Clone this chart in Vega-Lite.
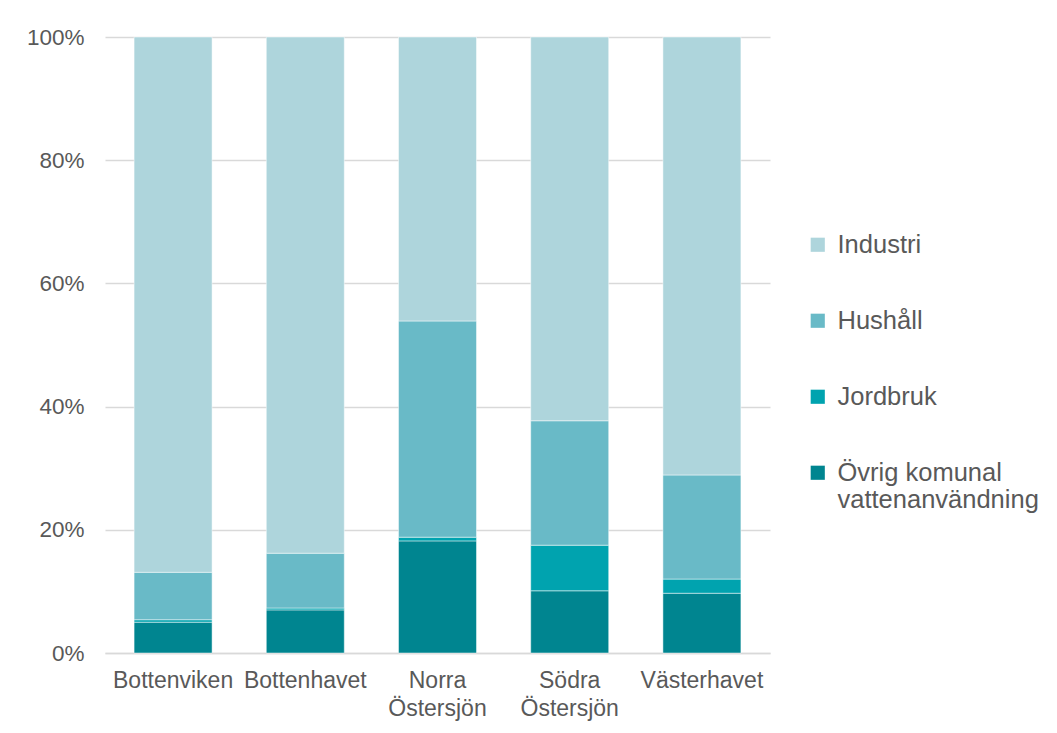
{
  "$schema": "https://vega.github.io/schema/vega-lite/v6.json",
  "autosize": "none",
  "width": 665,
  "height": 616,
  "padding": {"left": 105, "top": 37, "right": 287, "bottom": 80},
  "background": "white",
  "data": {
    "values": [
      {"region": "Bottenviken", "category": "Övrig komunal vattenanvändning", "share": 0.050},
      {"region": "Bottenviken", "category": "Jordbruk", "share": 0.004},
      {"region": "Bottenviken", "category": "Hushåll", "share": 0.077},
      {"region": "Bottenviken", "category": "Industri", "share": 0.869},
      {"region": "Bottenhavet", "category": "Övrig komunal vattenanvändning", "share": 0.070},
      {"region": "Bottenhavet", "category": "Jordbruk", "share": 0.003},
      {"region": "Bottenhavet", "category": "Hushåll", "share": 0.089},
      {"region": "Bottenhavet", "category": "Industri", "share": 0.838},
      {"region": "Norra Östersjön", "category": "Övrig komunal vattenanvändning", "share": 0.182},
      {"region": "Norra Östersjön", "category": "Jordbruk", "share": 0.006},
      {"region": "Norra Östersjön", "category": "Hushåll", "share": 0.351},
      {"region": "Norra Östersjön", "category": "Industri", "share": 0.461},
      {"region": "Södra Östersjön", "category": "Övrig komunal vattenanvändning", "share": 0.101},
      {"region": "Södra Östersjön", "category": "Jordbruk", "share": 0.074},
      {"region": "Södra Östersjön", "category": "Hushåll", "share": 0.202},
      {"region": "Södra Östersjön", "category": "Industri", "share": 0.623},
      {"region": "Västerhavet", "category": "Övrig komunal vattenanvändning", "share": 0.097},
      {"region": "Västerhavet", "category": "Jordbruk", "share": 0.023},
      {"region": "Västerhavet", "category": "Hushåll", "share": 0.169},
      {"region": "Västerhavet", "category": "Industri", "share": 0.711}
    ]
  },
  "transform": [
    {"calculate": "indexof(['Övrig komunal vattenanvändning','Jordbruk','Hushåll','Industri'], datum.category)", "as": "stackOrder"}
  ],
  "mark": {"type": "bar", "stroke": "white", "strokeWidth": 0.8, "strokeOpacity": 0.6},
  "encoding": {
    "x": {
      "field": "region",
      "type": "nominal",
      "sort": null,
      "scale": {"paddingInner": 0.41, "paddingOuter": 0.22},
      "axis": {
        "title": null,
        "labelAngle": 0,
        "labelExpr": "split(datum.label, ' ')",
        "labelFont": "Liberation Sans",
        "labelFontSize": 23,
        "labelColor": "#595959",
        "labelLineHeight": 28,
        "labelPadding": 16,
        "labelOverlap": false,
        "ticks": false,
        "domain": true,
        "domainColor": "#D9D9D9",
        "domainWidth": 1.5,
        "grid": false
      }
    },
    "y": {
      "field": "share",
      "type": "quantitative",
      "stack": "zero",
      "scale": {"domain": [0, 1], "nice": false},
      "axis": {
        "title": null,
        "format": ".0%",
        "values": [0, 0.2, 0.4, 0.6, 0.8, 1],
        "labelFont": "Liberation Sans",
        "labelFontSize": 22.5,
        "labelColor": "#595959",
        "labelPadding": 21,
        "ticks": false,
        "domain": false,
        "grid": true,
        "gridColor": "#D9D9D9",
        "gridWidth": 1.5
      }
    },
    "color": {
      "field": "category",
      "type": "nominal",
      "scale": {
        "domain": ["Industri", "Hushåll", "Jordbruk", "Övrig komunal vattenanvändning"],
        "range": ["#AED5DC", "#69BAC7", "#00A3AF", "#008590"]
      },
      "legend": {
        "title": null,
        "orient": "none",
        "legendX": 700,
        "legendY": 195,
        "symbolType": "square",
        "symbolSize": 200,
        "symbolStrokeWidth": 0,
        "labelFont": "Liberation Sans",
        "labelFontSize": 25.5,
        "labelColor": "#595959",
        "labelOffset": 7,
        "labelLimit": 300,
        "rowPadding": 49,
        "labelExpr": "datum.label == 'Övrig komunal vattenanvändning' ? ['Övrig komunal', 'vattenanvändning'] : datum.label"
      }
    },
    "order": {"field": "stackOrder", "type": "quantitative", "sort": "ascending"}
  },
  "config": {
    "view": {"stroke": null}
  }
}
